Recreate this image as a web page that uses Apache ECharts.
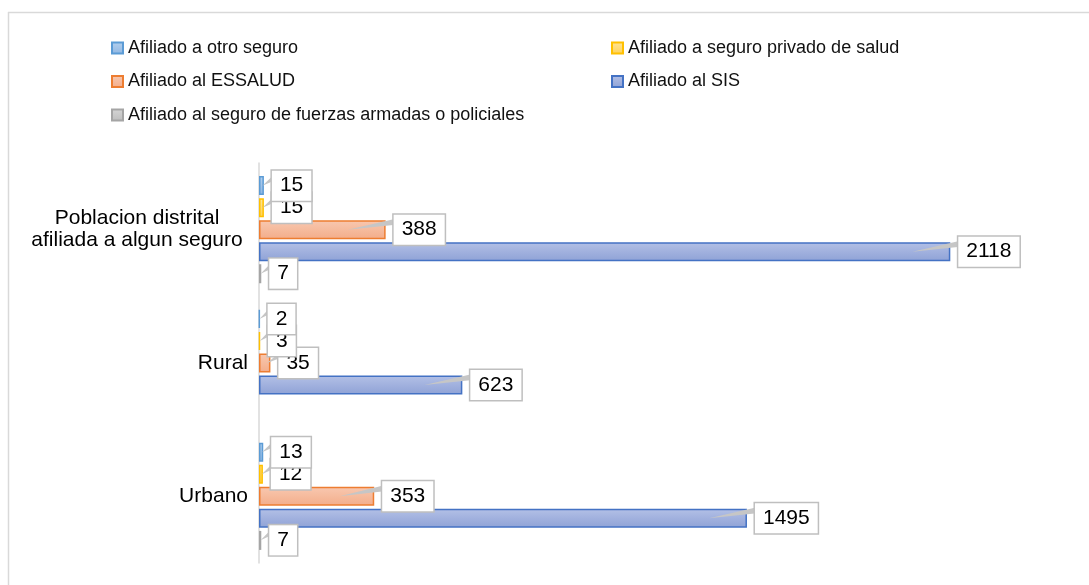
<!DOCTYPE html>
<html>
<head>
<meta charset="utf-8">
<title>Poblacion afiliada a algun seguro</title>
<script src="https://cdn.jsdelivr.net/npm/echarts@6/dist/echarts.min.js"></script>
<style>
  html, body { margin: 0; padding: 0; background: #fff; }
  #chart { width: 1089px; height: 585px; }
</style>
</head>
<body>
<div id="chart"></div>
<script>
// categorias (de arriba hacia abajo)
var categories = ['Poblacion distrital\nafiliada a algun seguro', 'Rural', 'Urbano'];
var seriesNames = [
  'Afiliado a otro seguro',
  'Afiliado a seguro privado de salud',
  'Afiliado al ESSALUD',
  'Afiliado al SIS',
  'Afiliado al seguro de fuerzas armadas o policiales'
];
var otroSeguro   = [15, 2, 13];
var seguroPrivado = [15, 3, 12];
var essalud      = [388, 35, 353];
var sis          = [2118, 623, 1495];
var fuerzas      = [7, null, 7];

var FONT = '"Liberation Sans", Arial, sans-serif';
var colors = [
  { top: '#b4d0ee', bottom: '#8fb6e2', border: '#5b9bd5' },
  { top: '#ffe59a', bottom: '#ffd257', border: '#ffc000' },
  { top: '#f8c8b0', bottom: '#f3ad8a', border: '#ed7d31' },
  { top: '#b3c0e6', bottom: '#8fa2d6', border: '#4472c4' },
  { top: '#d6d6d6', bottom: '#bdbdbd', border: '#a5a5a5' }
];
var allData = [otroSeguro, seguroPrivado, essalud, sis, fuerzas];

var myChart = echarts.init(document.getElementById('chart'));

var series = allData.map(function (vals, k) {
  var c = colors[k];
  return {
    name: seriesNames[k],
    type: 'bar',
    data: vals,
    barWidth: 19,
    barGap: '16%',
    itemStyle: {
      color: new echarts.graphic.LinearGradient(0, 0, 0, 1, [
        { offset: 0, color: c.top },
        { offset: 1, color: c.bottom }
      ]),
      borderColor: c.border,
      borderWidth: 1.5
    },
    emphasis: { disabled: true },
    silent: true
  };
});

// etiquetas tipo "callout" (las primeras series quedan encima)
var calloutData = [];
for (var k = allData.length - 1; k >= 0; k--) {
  for (var i = 0; i < categories.length; i++) {
    if (allData[k][i] != null) calloutData.push([allData[k][i], i, k]);
  }
}
series.push({
  type: 'custom',
  name: 'callouts',
  silent: true,
  z: 5,
  encode: { x: 0, y: 1 },
  data: calloutData,
  renderItem: function (params, api) {
    var val = api.value(0), cat = api.value(1), k = api.value(2);
    var end = api.coord([val, cat]);
    var start = api.coord([0, cat]);
    var cy = end[1] + (k - 2) * 22;
    var barLen = end[0] - start[0];
    var tipX = end[0] - Math.min(38, barLen * 0.3);
    var boxL = end[0] + 8;
    return {
      type: 'group',
      children: [
        {
          type: 'polygon',
          shape: { points: [[boxL + 2, cy - 11], [tipX, cy], [boxL + 2, cy - 5]] },
          style: { fill: '#c6c6c6' }
        },
        {
          type: 'text',
          x: boxL,
          y: cy,
          style: {
            text: String(val),
            fill: '#000',
            font: '21px ' + FONT,
            align: 'left',
            verticalAlign: 'middle',
            backgroundColor: '#fff',
            borderColor: '#bfbfbf',
            borderWidth: 1.5,
            padding: [5, 8, 4, 8]
          }
        }
      ]
    };
  }
});

var legendText = { color: '#111', fontSize: 18, fontFamily: FONT, lineHeight: 20 };

var option = {
  backgroundColor: '#fff',
  animation: false,
  textStyle: { fontFamily: FONT },
  graphic: [
    { type: 'line', shape: { x1: 8, y1: 12.5, x2: 1089, y2: 12.5 }, style: { stroke: '#d9d9d9', lineWidth: 1.5 } },
    { type: 'line', shape: { x1: 8.5, y1: 12, x2: 8.5, y2: 585 }, style: { stroke: '#d9d9d9', lineWidth: 1.5 } }
  ],
  legend: [
    {
      orient: 'vertical', left: 106, top: 33, itemGap: 13.5,
      itemWidth: 11, itemHeight: 11, icon: 'rect', selectedMode: false,
      textStyle: legendText,
      data: [seriesNames[0], seriesNames[2], seriesNames[4]]
    },
    {
      orient: 'vertical', left: 606, top: 33, itemGap: 13.5,
      itemWidth: 11, itemHeight: 11, icon: 'rect', selectedMode: false,
      textStyle: legendText,
      data: [seriesNames[1], seriesNames[3]]
    }
  ],
  grid: { left: 259, top: 163, width: 816, bottom: 22, containLabel: false },
  xAxis: {
    type: 'value', min: 0, max: 2500, show: false
  },
  yAxis: {
    type: 'category',
    inverse: true,
    data: categories,
    axisTick: { show: false },
    axisLine: { lineStyle: { color: '#d9d9d9', width: 1.5 } },
    axisLabel: {
      margin: 11,
      color: '#000',
      fontSize: 21,
      fontFamily: FONT,
      align: 'right',
      formatter: function (v) {
        if (v.indexOf('\n') < 0) return v;
        return v.split('\n').map(function (s) { return '{m|' + s + '}'; }).join('\n');
      },
      rich: {
        m: { width: 222, align: 'center', fontSize: 21, lineHeight: 22, color: '#000', fontFamily: FONT }
      }
    }
  },
  series: series
};

myChart.setOption(option);
</script>
</body>
</html>
